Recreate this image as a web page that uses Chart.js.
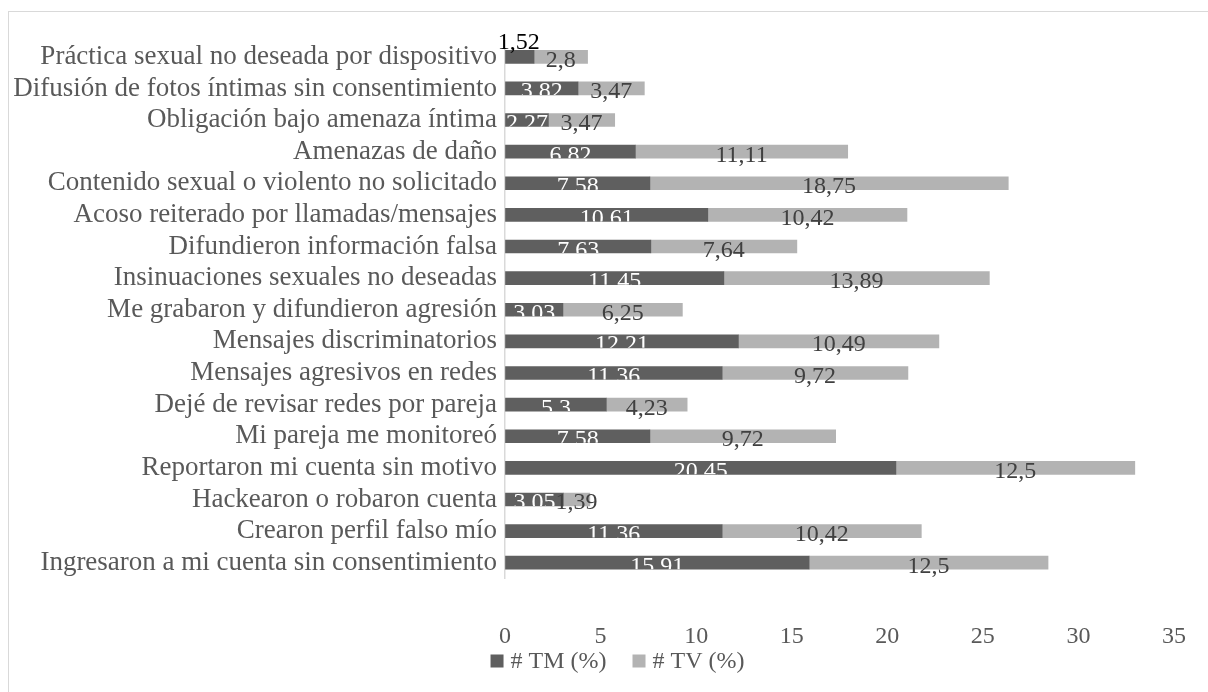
<!DOCTYPE html>
<html>
<head>
<meta charset="utf-8">
<script src="https://cdn.jsdelivr.net/npm/chart.js@4.4.1/dist/chart.umd.min.js"></script>
<style>
  html, body { margin: 0; padding: 0; background: #fff; }
  #wrap { position: relative; width: 1208px; height: 692px; overflow: hidden; }
  #frame { position: absolute; left: 8px; top: 11px; width: 1300px; height: 800px; border: 1.5px solid #d9d9d9; box-sizing: border-box; }
  canvas { position: absolute; left: 0; top: 0; }
</style>
</head>
<body>
<div id="wrap">
  <div id="frame"></div>
  <canvas id="c" width="1208" height="692"></canvas>
</div>
<script>
const categories = [
  "Práctica sexual no deseada por dispositivo",
  "Difusión de fotos íntimas sin consentimiento",
  "Obligación bajo amenaza íntima",
  "Amenazas de daño",
  "Contenido sexual o violento no solicitado",
  "Acoso reiterado por llamadas/mensajes",
  "Difundieron información falsa",
  "Insinuaciones sexuales no deseadas",
  "Me grabaron y difundieron agresión",
  "Mensajes discriminatorios",
  "Mensajes agresivos en redes",
  "Dejé de revisar redes por pareja",
  "Mi pareja me monitoreó",
  "Reportaron mi cuenta sin motivo",
  "Hackearon o robaron cuenta",
  "Crearon perfil falso mío",
  "Ingresaron a mi cuenta sin consentimiento"
];
const tmValues = [1.52, 3.82, 2.27, 6.82, 7.58, 10.61, 7.63, 11.45, 3.03, 12.21, 11.36, 5.3, 7.58, 20.45, 3.05, 11.36, 15.91];
const tvValues = [2.8, 3.47, 3.47, 11.11, 18.75, 10.42, 7.64, 13.89, 6.25, 10.49, 9.72, 4.23, 9.72, 12.5, 1.39, 10.42, 12.5];
const seriesNames = ["# TM (%)", "# TV (%)"];
const xTicks = [0, 5, 10, 15, 20, 25, 30, 35];

const FONT = "'Liberation Serif', 'DejaVu Serif', serif";
const fmt = v => String(v).replace('.', ',');

const labelPlugin = {
  id: 'barLabels',
  afterDatasetsDraw(chart) {
    const ctx = chart.ctx;
    ctx.save();
    ctx.font = "24px " + FONT;
    ctx.textAlign = 'center';
    ctx.textBaseline = 'alphabetic';
    chart.data.datasets.forEach((ds, di) => {
      const meta = chart.getDatasetMeta(di);
      meta.data.forEach((bar, i) => {
        const v = ds.data[i];
        const cx = (bar.x + bar.base) / 2;
        if (di === 0 && i === 0) {
          ctx.fillStyle = '#000000';
          ctx.fillText(fmt(v), cx - 1, bar.y - 8);
          return;
        }
        if (di === 0) {
          ctx.save();
          ctx.beginPath();
          ctx.rect(Math.min(bar.x, bar.base) - 40, bar.y - bar.height / 2, Math.abs(bar.x - bar.base) + 80, bar.height);
          ctx.clip();
          ctx.fillStyle = '#ffffff';
          ctx.fillText(fmt(v), cx, bar.y + 10);
          ctx.restore();
        } else {
          ctx.fillStyle = '#404040';
          ctx.fillText(fmt(v), cx, bar.y + 10);
        }
      });
    });
    ctx.restore();
  }
};

// Legend drawn Excel-style: 13px square, small gap, wide gap between items
const legendPlugin = {
  id: 'excelLegend',
  afterDraw(chart) {
    const ctx = chart.ctx;
    const box = 13, gapText = 7, gapItem = 26, cy = 661, centerX = 617.5;
    ctx.save();
    ctx.font = "24px " + FONT;
    ctx.textBaseline = 'middle';
    ctx.textAlign = 'left';
    const items = chart.data.datasets.map(ds => ({ text: ds.label, color: ds.backgroundColor, w: ctx.measureText(ds.label).width }));
    const total = items.reduce((s, it) => s + box + gapText + it.w, 0) + gapItem * (items.length - 1);
    let x = centerX - total / 2;
    items.forEach(it => {
      ctx.fillStyle = it.color;
      ctx.fillRect(x, cy - box / 2, box, box);
      x += box + gapText;
      ctx.fillStyle = '#595959';
      ctx.fillText(it.text, x, cy + 1);
      x += it.w + gapItem;
    });
    ctx.restore();
  }
};

new Chart(document.getElementById('c'), {
  type: 'bar',
  data: {
    labels: categories,
    datasets: [
      { label: seriesNames[0], data: tmValues, backgroundColor: '#5f5f5f', barThickness: 13 },
      { label: seriesNames[1], data: tvValues, backgroundColor: '#b3b3b3', barThickness: 13 }
    ]
  },
  options: {
    indexAxis: 'y',
    responsive: false,
    animation: false,
    layout: { padding: { top: 41, right: 34, bottom: 40, left: 0 } },
    plugins: {
      legend: { display: false },
      tooltip: { enabled: false }
    },
    scales: {
      x: {
        stacked: true,
        min: 0, max: 35,
        afterBuildTicks: s => { s.ticks = xTicks.map(v => ({ value: v })); },
        grid: { display: true, color: 'rgba(0,0,0,0)', drawTicks: true, tickLength: 43.5 },
        border: { display: false },
        ticks: { color: '#595959', padding: 0, font: { family: FONT, size: 24 } },
        afterFit: s => { s.height = 73.5; }
      },
      y: {
        stacked: true,
        grid: { display: false, drawTicks: false },
        border: { display: true, color: '#d9d9d9', width: 1.5 },
        ticks: { color: '#595959', padding: 8, autoSkip: false, font: { family: FONT, size: 27 } },
        afterFit: s => { s.width = 505; }
      }
    }
  },
  plugins: [labelPlugin, legendPlugin]
});
</script>
</body>
</html>
